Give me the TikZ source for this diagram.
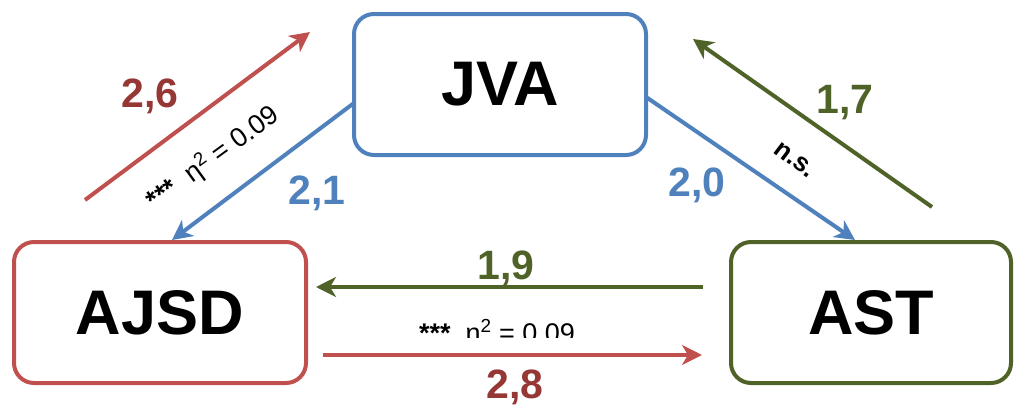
\documentclass[tikz,border=0pt]{standalone}
\usepackage{fontspec}
\setmainfont{Liberation Sans}
\usetikzlibrary{arrows.meta}
\definecolor{cred}{HTML}{C0504D}
\definecolor{cdred}{HTML}{953735}
\definecolor{cblue}{HTML}{4F81BD}
\definecolor{cgreen}{HTML}{4F6228}
\begin{document}
\begin{tikzpicture}[x=1pt,y=-1pt,
  box/.style={draw,line width=4pt,rounded corners=20pt,fill=white,inner sep=0pt,
    font=\fontsize{63}{63}\selectfont\bfseries},
  conn/.style={line width=4pt,-{Stealth[length=20pt,width=20pt,inset=6pt]}},
  num/.style={font=\fontsize{41}{41}\selectfont\bfseries},
  stat/.style={inner sep=1pt,font=\fontsize{27}{27}\selectfont}]
\useasboundingbox (0,0) rectangle (1015,405);
\node[box,draw=cblue,minimum width=292pt,minimum height=141pt] (JVA) at (500,84.5) {JVA};
\node[box,draw=cred,minimum width=292pt,minimum height=141pt] (AJSD) at (160,312.5) {AJSD};
\node[box,draw=cgreen,minimum width=280pt,minimum height=141pt] (AST) at (871,312.5) {AST};
% endpoints
\coordinate (r1s) at (85,200);
\coordinate (r1e) at (310,32);
\coordinate (b1s) at (354,103);
\coordinate (b1e) at (172,240);
\coordinate (b2s) at (646,97);
\coordinate (b2e) at (855,240);
\coordinate (g1s) at (932,207);
\coordinate (g1e) at (693,39);
\coordinate (g2s) at (703,287);
\coordinate (g2e) at (316,287);
\coordinate (r2s) at (323,355);
\coordinate (r2e) at (702,355);
\draw[conn,cred] (r1s) -- (r1e);
\draw[conn,cblue] (b1s) -- (b1e);
\draw[conn,cblue] (b2s) -- (b2e);
\draw[conn,cgreen] (g1s) -- (g1e);
\draw[conn,cgreen] (g2s) -- (g2e);
\draw[conn,cred] (r2s) -- (r2e);
% labels
\node[num,text=cdred] (l26) at (150,96) {2,6};
\node[num,text=cblue] (l21) at (317,193) {2,1};
\node[num,text=cblue] (l20) at (697,185) {2,0};
\node[num,text=cgreen] (l17) at (845,103) {1,7};
\node[num,text=cgreen] (l19) at (506,268) {1,9};
\node[num,text=cdred] (l28) at (515,387) {2,8};
\node[stat,font=\fontsize{26}{26}\selectfont\bfseries,rotate=-37] (ns) at (795,160) {n.s.};
\node[stat,rotate=36] (eta1) at (213,158) {\textbf{***}\ \ η\textsuperscript{2} = 0.09};
\begin{scope}
\clip (400,300) rectangle (620,337);
\node[stat,anchor=base] (eta2) at (497,342) {\textbf{***}\ \ η\textsuperscript{2} = 0.09};
\end{scope}
\end{tikzpicture}
\end{document}
